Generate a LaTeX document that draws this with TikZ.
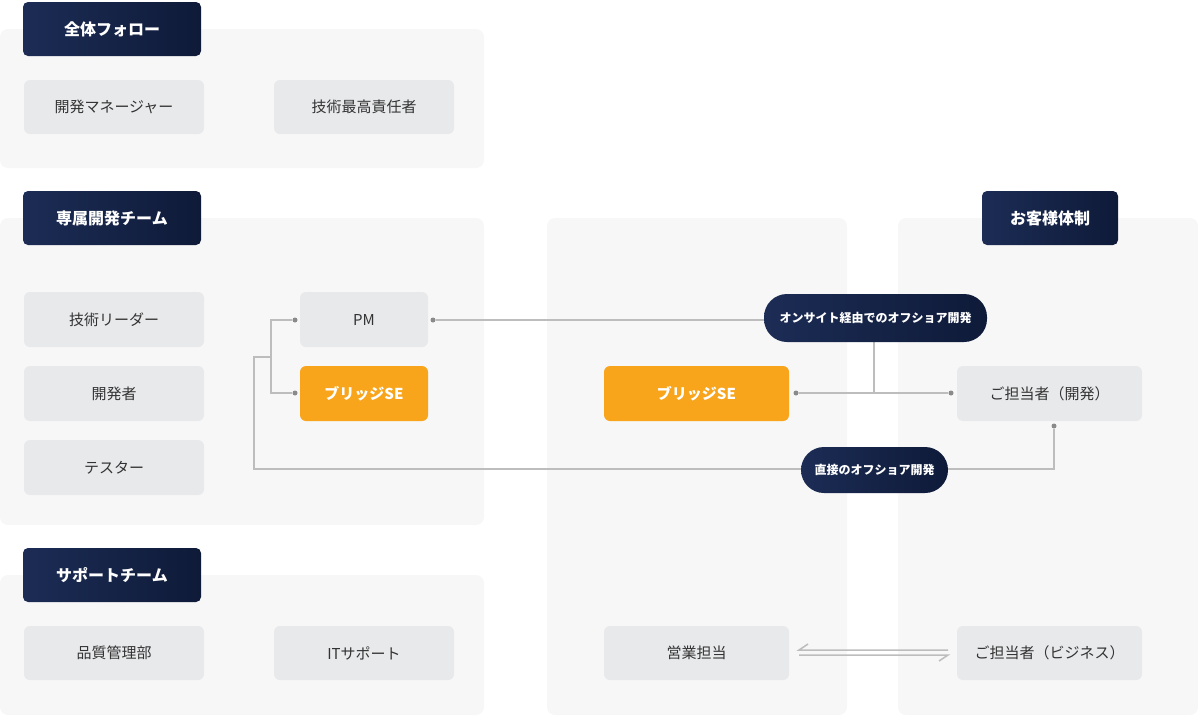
\documentclass[tikz,border=0pt]{standalone}
\usepackage{fontspec}
\setmainfont{Noto Sans CJK JP}
\newfontfamily\cjkb{Noto Sans CJK JP}[BoldFont={Noto Sans CJK JP Bold}]
\definecolor{panel}{HTML}{F7F7F7}
\definecolor{boxc}{HTML}{E8E9EB}
\definecolor{navyA}{HTML}{1C2C55}
\definecolor{navyB}{HTML}{0E1A38}
\definecolor{orng}{HTML}{F8A51B}
\definecolor{linec}{HTML}{BDBDBD}
\definecolor{dotc}{HTML}{8A8A8A}
\definecolor{txt}{HTML}{333333}
\begin{document}
\begin{tikzpicture}[x=1pt,y=-1pt,
  panel/.style={fill=panel,draw=none,rounded corners=8pt},
  box/.style={fill=boxc,rounded corners=6pt,text=txt,font=\fontsize{15}{18}\selectfont},
  obox/.style={fill=orng,rounded corners=6pt,text=white,font=\fontsize{15}{18}\selectfont\bfseries},
  head/.style={left color=navyA,right color=navyB,rounded corners=5pt,text=white,font=\fontsize{16}{19}\selectfont\bfseries},
  pill/.style={left color=navyA,right color=navyB,rounded corners=23pt,text=white,font=\fontsize{12}{14}\selectfont\bfseries},
  ln/.style={draw=linec,line width=1.5pt},
  dot/.style={circle,fill=dotc,inner sep=0pt,minimum size=5pt}]
\useasboundingbox (0,0) rectangle (1198,715);
% panels
\fill[panel] (0,29) rectangle (484,168);
\fill[panel] (0,218) rectangle (484,525);
\fill[panel] (0,575) rectangle (484,715);
\fill[panel] (547,218) rectangle (847,715);
\fill[panel] (898,218) rectangle (1198,715);
% headers
\path[head] (23,2) rectangle (201,56); \node[text=white,font=\fontsize{16}{19}\selectfont\bfseries] (h1) at (112,29) {全体フォロー};
\path[head] (23,191) rectangle (201,245); \node[text=white,font=\fontsize{16}{19}\selectfont\bfseries] (h2) at (112,218) {専属開発チーム};
\path[head] (23,548) rectangle (201,602); \node[text=white,font=\fontsize{16}{19}\selectfont\bfseries] (h3) at (112,575) {サポートチーム};
\path[head] (982,191) rectangle (1118,245); \node[text=white,font=\fontsize{16}{19}\selectfont\bfseries] (h4) at (1050,218) {お客様体制};
% boxes
\newcommand{\bx}[6]{\path[#1] (#2,#3) rectangle (#4,#5); \node[#1,fill=none] at ({(#2+#4)/2},{(#3+#5)/2}) {#6};}
\bx{box}{24}{80}{204}{134}{開発マネージャー}
\bx{box}{274}{80}{454}{134}{技術最高責任者}
\bx{box}{24}{292}{204}{347}{技術リーダー}
\bx{box}{24}{366}{204}{421}{開発者}
\bx{box}{24}{440}{204}{495}{テスター}
\bx{box}{300}{292}{428}{347}{PM}
\bx{obox}{300}{366}{428}{421}{ブリッジSE}
\bx{box}{24}{626}{204}{680}{品質管理部}
\bx{box}{274}{626}{454}{680}{ITサポート}
\bx{obox}{604}{366}{789}{421}{ブリッジSE}
\bx{box}{604}{626}{789}{680}{営業担当}
\bx{box}{957}{366}{1142}{421}{ご担当者（開発）}
\bx{box}{957}{626}{1142}{680}{ご担当者（ビジネス）}
% connector coordinates
\node[dot] (pmR) at (433,320) {};
\node[dot] (pmL) at (295,320) {};
\node[dot] (bsL) at (295,393) {};
\node[dot] (bsR) at (796,393) {};
\node[dot] (kdL) at (951,393) {};
\node[dot] (kdB) at (1054,426) {};
\coordinate (j1) at (874,393);
\coordinate (p1b) at (874,342);
\coordinate (a) at (271,320); \coordinate (b) at (271,393);
\coordinate (c) at (271,357); \coordinate (d) at (254,357);
\coordinate (e) at (254,469); \coordinate (f) at (1054,469);
\draw[ln] (pmR) -- (764,320);
\draw[ln] (p1b) -- (j1);
\draw[ln] (bsR) -- (kdL);
\draw[ln] (pmL) -- (a) -- (b) -- (bsL);
\draw[ln] (c) -- (d) -- (e) -- (f) -- (kdB);
% pills
\path[pill] (764,294) rectangle (987,342);
\node[text=white,font=\fontsize{12}{14}\selectfont\bfseries] (p1) at (875.5,318) {オンサイト経由でのオフショア開発};
\path[pill] (801,447) rectangle (948,493);
\node[text=white,font=\fontsize{12}{14}\selectfont\bfseries] (p2) at (874.5,470) {直接のオフショア開発};
% harpoons
\coordinate (hl) at (799,650); \coordinate (hr) at (948,650);
\coordinate (gl) at (799,655); \coordinate (gr) at (948,655);
\draw[ln] (hr) -- (hl) -- (808,644);
\draw[ln] (gl) -- (gr) -- (939,661);
\end{tikzpicture}
\end{document}
